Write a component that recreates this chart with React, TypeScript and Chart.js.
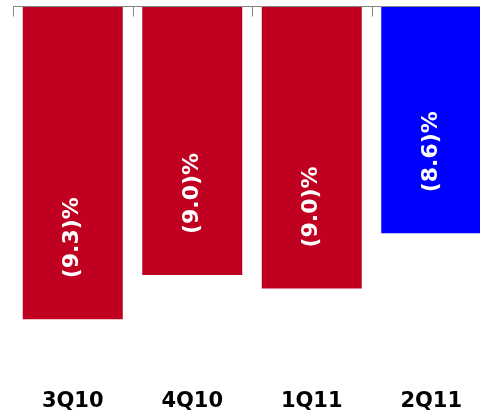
import React, { useEffect, useRef } from "react";
import { Chart, registerables } from "chart.js";

Chart.register(...registerables);

const categories = ["3Q10", "4Q10", "1Q11", "2Q11"];
const values = [-9.3, -8.94, -9.05, -8.6];
const valueLabels = ["(9.3)%", "(9.0)%", "(9.0)%", "(8.6)%"];
const barColors = ["#C00020", "#C00020", "#C00020", "#0000FF"];
const Y_MAX = -6.76;
const Y_MIN = -9.8;

const topAxisPlugin = {
  id: "topAxis",
  afterDatasetsDraw(chart: any) {
    const { ctx, chartArea, scales } = chart;
    const x = scales.x;
    const n = categories.length;
    const step = (chartArea.right - chartArea.left) / n;
    ctx.save();
    ctx.strokeStyle = "#868686";
    ctx.lineWidth = 1;
    const y = Math.round(chartArea.top) - 0.5;
    ctx.beginPath();
    ctx.moveTo(chartArea.left, y);
    ctx.lineTo(chartArea.right, y);
    for (let i = 0; i < n; i++) {
      const px = Math.round(x.getPixelForValue(i) - step / 2) + 0.5;
      ctx.moveTo(px, y);
      ctx.lineTo(px, y + 10);
    }
    ctx.stroke();

    const meta = chart.getDatasetMeta(0);
    ctx.fillStyle = "#ffffff";
    ctx.font = "bold 22px 'DejaVu Sans'";
    ctx.textAlign = "left";
    ctx.textBaseline = "middle";
    meta.data.forEach((bar: any, i: number) => {
      ctx.save();
      ctx.translate(bar.x, bar.y - 41);
      ctx.rotate(-Math.PI / 2);
      ctx.fillText(valueLabels[i], 0, 0);
      ctx.restore();
    });
    ctx.restore();
  },
};

export default function App() {
  const canvasRef = useRef<HTMLCanvasElement | null>(null);

  useEffect(() => {
    if (!canvasRef.current) return;
    const chart = new Chart(canvasRef.current, {
      type: "bar",
      data: {
        labels: categories,
        datasets: [
          {
            data: values,
            backgroundColor: barColors,
            borderWidth: 0,
            base: Y_MAX,
            barPercentage: 0.837,
            categoryPercentage: 1,
          } as any,
        ],
      },
      options: {
        animation: false,
        responsive: true,
        maintainAspectRatio: false,
        layout: { padding: { left: 13, right: 0, top: 7, bottom: 0 } },
        plugins: {
          legend: { display: false },
          tooltip: { enabled: false },
        },
        scales: {
          x: {
            position: "bottom",
            grid: { display: false, drawTicks: false },
            border: { display: false },
            ticks: {
              color: "#000000",
              padding: 8,
              font: { family: "'DejaVu Sans'", size: 21, weight: "bold" },
            },
          },
          y: {
            display: false,
            min: Y_MIN,
            max: Y_MAX,
          },
        },
      },
      plugins: [topAxisPlugin],
    });
    return () => chart.destroy();
  }, []);

  return (
    <div
      style={{
        position: "fixed",
        left: 0,
        top: 0,
        width: 480,
        height: 417,
        overflow: "hidden",
        background: "#ffffff",
      }}
    >
      <div style={{ position: "absolute", left: 0, top: 0, width: 491, height: 422 }}>
        <canvas ref={canvasRef} />
      </div>
    </div>
  );
}
